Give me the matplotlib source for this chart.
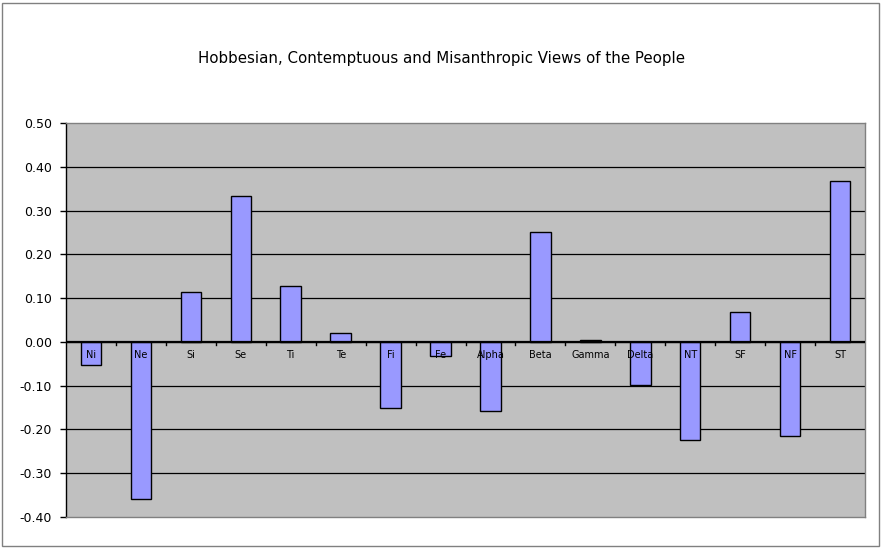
import matplotlib
matplotlib.use("Agg")
import matplotlib.pyplot as plt
from matplotlib.patches import Rectangle
import numpy as np

# === Data ===
categories = ["Ni", "Ne", "Si", "Se", "Ti", "Te", "Fi", "Fe",
              "Alpha", "Beta", "Gamma", "Delta", "NT", "SF", "NF", "ST"]
values = [-0.052, -0.360, 0.115, 0.334, 0.128, 0.021, -0.150, -0.032,
          -0.157, 0.252, 0.005, -0.098, -0.223, 0.069, -0.214, 0.368]
yticks = [-0.40, -0.30, -0.20, -0.10, 0.00, 0.10, 0.20, 0.30, 0.40, 0.50]
title = "Hobbesian, Contemptuous and Misanthropic Views of the People"

W, H = 882, 548
fig = plt.figure(figsize=(W / 100, H / 100), dpi=100)
fig.patch.set_facecolor("white")

# outer chart border
fig.add_artist(Rectangle((2 / W, 2 / H), (W - 5) / W, (H - 5) / H,
                         transform=fig.transFigure, fill=False,
                         edgecolor="#808080", linewidth=1))

# plot area: x 66..865, y 123..517 (pixels from top)
ax = fig.add_axes([66 / W, 1 - 517 / H, (865 - 66) / W, (517 - 123) / H])
ax.set_facecolor("#C0C0C0")

x = np.arange(len(categories))
ax.bar(x, values, width=0.41, color="#9999FF", edgecolor="black",
       linewidth=1, zorder=3)

ax.set_xlim(-0.5, len(categories) - 0.5)
ax.set_ylim(-0.40, 0.50)
ax.set_yticks(yticks)
ax.set_yticklabels([f"{v:.2f}" for v in yticks], fontsize=9)
ax.tick_params(axis="y", direction="out", length=4, width=1, pad=6)

for y in yticks[1:-1]:
    ax.axhline(y, color="black", linewidth=0.9, zorder=1)
ax.axhline(0, color="black", linewidth=1.6, zorder=4)

# category ticks on the zero line
ax.set_xticks([])
for b in np.arange(0.5, len(categories) - 0.5, 1.0):
    ax.plot([b, b], [0, -0.008], color="black", linewidth=1, zorder=4)

for xi, name in zip(x, categories):
    ax.text(xi, -0.03, name, ha="center", va="center", fontsize=7,
            color="black", zorder=5)

for side in ["top", "right", "bottom"]:
    ax.spines[side].set_color("#808080")
    ax.spines[side].set_linewidth(1)
ax.spines["left"].set_color("black")
ax.spines["left"].set_linewidth(1)

fig.text(441 / W, 1 - 59 / H, title, ha="center", va="center", fontsize=10.8)

fig.savefig("out.png", dpi=100)
